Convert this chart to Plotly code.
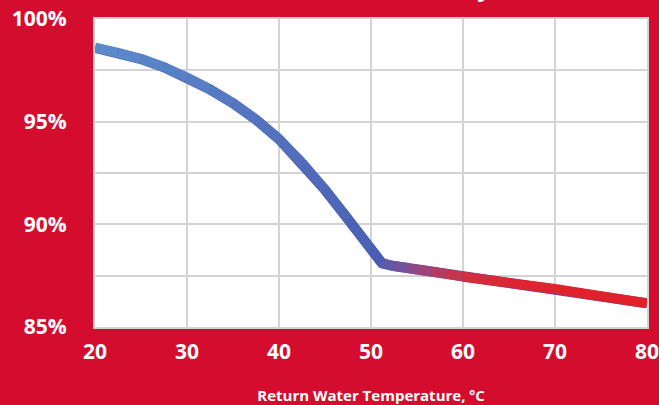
import plotly.graph_objects as go

# Data
temp = [20, 22.5, 25, 27.5, 30, 32.5, 35, 37.5, 40, 42.5, 45, 47.5, 50, 51.2,
        52.5, 54, 55, 56.5, 58, 60, 62.5, 65, 70, 75, 80]
eff = [98.6, 98.35, 98.05, 97.65, 97.15, 96.57, 95.9, 95.1, 94.15, 93.0, 91.68, 90.25,
       88.8, 88.1, 87.97, 87.87, 87.8, 87.7, 87.6, 87.45, 87.3, 87.15, 86.85, 86.5, 86.15]
y_ticks = [85, 87.5, 90, 92.5, 95, 97.5, 100]
y_labels = ["85%", "", "90%", "", "95%", "", "100%"]
x_ticks = [20, 30, 40, 50, 60, 70, 80]
x_title = "Return Water Temperature, ºC"
title_text = "Boiler Efficiency"

# segment colours (style)
seg_colors = ["#5b8acb", "#5987c9", "#5884c7", "#5781c6", "#567ec4", "#557ac2",
              "#5476c0", "#5372be", "#526ebc", "#506aba", "#4e66b7", "#4c62b5",
              "#4a5db2", "#5d5aa8", "#72529a", "#8a4a88", "#a04377", "#b43c63",
              "#c63550", "#d32d40", "#da2836", "#dd2430", "#e0222c", "#e0212b"]

RED = "#D40D2E"
GRID = "#d3d3d3"
FONT = "Open Sans"

fig = go.Figure()
# underlying full path to close joins
fig.add_trace(go.Scatter(x=temp, y=eff, mode="lines",
                         line=dict(color="#4f5db0", width=10),
                         hoverinfo="skip", showlegend=False))
for i in range(len(temp) - 1):
    fig.add_trace(go.Scatter(x=temp[i:i + 2], y=eff[i:i + 2], mode="lines",
                             line=dict(color=seg_colors[i], width=10),
                             hoverinfo="skip", showlegend=False))

fig.add_annotation(text=title_text, xref="paper", yref="paper", x=0.721, y=1,
                   xanchor="right", yanchor="bottom", yshift=14, showarrow=False,
                   font=dict(family=FONT, size=24, color="white", weight="bold"))

fig.update_layout(
    width=659, height=405,
    paper_bgcolor=RED, plot_bgcolor="white",
    margin=dict(l=95, r=12, t=19, b=78),
    showlegend=False,
    xaxis=dict(range=[20, 80], tickvals=x_ticks, showgrid=True, gridcolor=GRID,
               gridwidth=2, showline=True, linecolor=GRID, linewidth=2, mirror=True,
               zeroline=False, ticks="", ticklabelstandoff=5, automargin=False,
               ticklabeloverflow="allow",
               tickfont=dict(family=FONT, size=21, color="white", weight="bold"),
               title=dict(text=x_title, standoff=26,
                          font=dict(family=FONT, size=15, color="white", weight="bold"))),
    yaxis=dict(range=[85, 100], tickvals=y_ticks, ticktext=y_labels, showgrid=True,
               gridcolor=GRID, gridwidth=2, showline=True, linecolor=GRID, linewidth=2,
               mirror=True, zeroline=False, ticks="", ticklabelstandoff=22,
               automargin=False, ticklabeloverflow="allow",
               tickfont=dict(family=FONT, size=21, color="white", weight="bold")),
)

fig.write_html("out.html", config={"displayModeBar": False},
               post_script="document.body.style.margin='0';"
                           "document.body.style.background='#D40D2E';")
